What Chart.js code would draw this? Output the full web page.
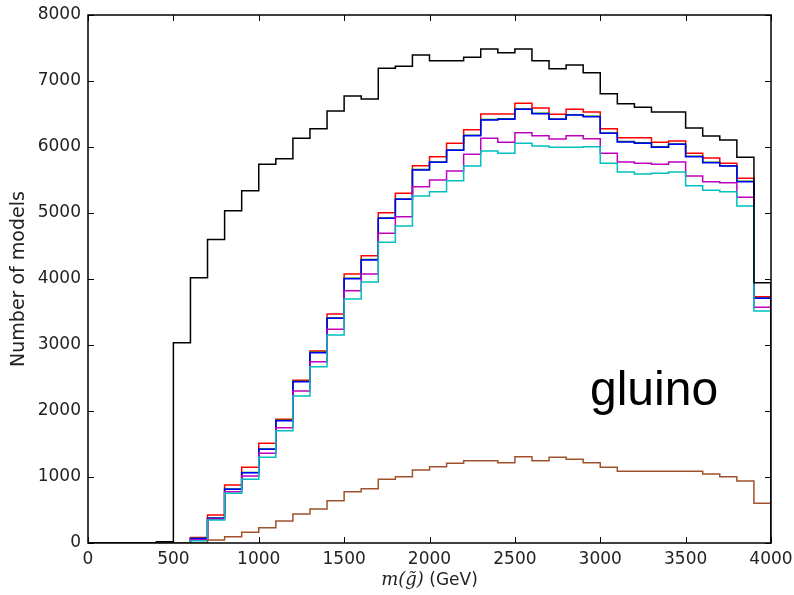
<!doctype html>
<html lang="en">
<head>
  <meta charset="utf-8">
  <title>gluino mass distribution</title>
  <style>
    * { margin: 0; padding: 0; }
    body { background: white; }
    .chartBox { width: 794px; height: 595px; position: relative; }
  </style>
</head>
<body>
<div class="chartBox">
  <canvas id="myChart"></canvas>
</div>

<script src="https://cdn.jsdelivr.net/npm/chart.js"></script>
<script>
  // bin left edges in GeV (bin width 100)
  const binEdges = [0, 100, 200, 300, 400, 500, 600, 700, 800, 900,
    1000, 1100, 1200, 1300, 1400, 1500, 1600, 1700, 1800, 1900,
    2000, 2100, 2200, 2300, 2400, 2500, 2600, 2700, 2800, 2900,
    3000, 3100, 3200, 3300, 3400, 3500, 3600, 3700, 3800, 3900];
  const xMax = 4000;

  // counts per bin
  const allModels = [0, 0, 0, 0, 20, 3035, 4020, 4600, 5035, 5338,
    5737, 5823, 6131, 6278, 6545, 6773, 6727, 7192, 7222, 7394,
    7308, 7308, 7359, 7485, 7429, 7485, 7308, 7187, 7242, 7126,
    6808, 6657, 6601, 6530, 6530, 6288, 6167, 6106, 5843, 3944];
  const redSet = [0, 0, 0, 0, 0, 0, 85, 424, 879, 1146,
    1510, 1874, 2465, 2909, 3470, 4076, 4353, 5005, 5298, 5717,
    5853, 6056, 6260, 6500, 6500, 6662, 6591, 6495, 6571, 6530,
    6278, 6141, 6141, 6071, 6091, 5904, 5833, 5753, 5525, 3732];
  const greenSet = [0, 0, 0, 0, 0, 0, 72, 378, 818, 1070,
    1425, 1858, 2450, 2890, 3410, 4012, 4295, 4925, 5212, 5658,
    5773, 5956, 6178, 6415, 6428, 6576, 6510, 6424, 6490, 6466,
    6212, 6082, 6064, 6002, 6046, 5858, 5768, 5717, 5480, 3712];
  const blueSet = [0, 0, 0, 0, 0, 0, 70, 374, 813, 1066,
    1419, 1853, 2444, 2884, 3404, 4005, 4288, 4919, 5207, 5652,
    5768, 5950, 6172, 6409, 6419, 6571, 6505, 6419, 6485, 6460,
    6207, 6076, 6056, 5995, 6040, 5853, 5763, 5712, 5475, 3707];
  const magentaSet = [0, 0, 0, 0, 0, 0, 50, 364, 778, 1015,
    1359, 1747, 2303, 2747, 3237, 3823, 4076, 4692, 4945, 5399,
    5500, 5638, 5889, 6131, 6071, 6217, 6172, 6121, 6172, 6126,
    5904, 5773, 5753, 5737, 5773, 5561, 5475, 5460, 5237, 3571];
  const cyanSet = [0, 0, 0, 0, 0, 0, 35, 348, 753, 965,
    1298, 1702, 2227, 2671, 3152, 3697, 3955, 4556, 4803, 5258,
    5323, 5490, 5712, 5939, 5904, 6056, 6015, 5995, 5995, 6005,
    5753, 5621, 5591, 5601, 5621, 5414, 5343, 5323, 5106, 3515];
  const brownSet = [0, 0, 0, 0, 0, 0, 0, 45, 96, 162,
    232, 333, 439, 515, 641, 778, 823, 965, 1005, 1106,
    1157, 1207, 1247, 1247, 1217, 1308, 1247, 1298, 1268, 1217,
    1146, 1086, 1086, 1086, 1086, 1086, 1045, 1005, 939, 601];

  const yTicks = [0, 1000, 2000, 3000, 4000, 5000, 6000, 7000, 8000];
  const xTicks = [0, 500, 1000, 1500, 2000, 2500, 3000, 3500, 4000];

  // histogram outline: one point per left edge, then close at the right edge
  function stepPoints(vals) {
    const pts = binEdges.map((e, i) => ({x: e, y: vals[i]}));
    pts.push({x: xMax, y: vals[vals.length - 1]});
    pts.push({x: xMax, y: 0});
    return pts;
  }

  function hist(vals, color) {
    return {
      data: stepPoints(vals),
      borderColor: color,
      borderWidth: 1.5,
      pointRadius: 0,
      stepped: true,
      fill: false
    };
  }

  // first dataset ends up on top
  const data = {
    datasets: [
      hist(allModels, '#000000'),
      hist(brownSet, '#a0522d'),
      hist(cyanSet, '#00bfbf'),
      hist(magentaSet, '#bf00bf'),
      hist(blueSet, '#0000ff'),
      hist(greenSet, '#008000'),
      hist(redSet, '#ff0000')
    ]
  };

  // frame, inward ticks, x label with math part, and the "gluino" note
  const framePlugin = {
    id: 'frame',
    afterDraw(chart) {
      const {ctx, chartArea: a, scales: {x, y}} = chart;
      ctx.save();
      ctx.strokeStyle = '#000';
      ctx.lineWidth = 1.5;
      ctx.strokeRect(a.left, a.top, a.right - a.left, a.bottom - a.top);
      ctx.lineWidth = 1;
      ctx.beginPath();
      xTicks.forEach(v => {
        const px = Math.round(x.getPixelForValue(v)) + 0.5;
        ctx.moveTo(px, a.bottom); ctx.lineTo(px, a.bottom - 6);
        ctx.moveTo(px, a.top); ctx.lineTo(px, a.top + 6);
      });
      yTicks.forEach(v => {
        const py = Math.round(y.getPixelForValue(v)) + 0.5;
        ctx.moveTo(a.left, py); ctx.lineTo(a.left + 6, py);
        ctx.moveTo(a.right, py); ctx.lineTo(a.right - 6, py);
      });
      ctx.stroke();

      // x axis label: m(g~) in italic serif, (GeV) upright
      const mathPart = 'm(g\u0303)';
      const unitPart = ' (GeV)';
      const mathFont = 'italic 18px "DejaVu Serif"';
      const unitFont = '17px "DejaVu Sans"';
      ctx.font = mathFont;
      const w1 = ctx.measureText(mathPart).width;
      ctx.font = unitFont;
      const w2 = ctx.measureText(unitPart).width;
      const cx = (a.left + a.right) / 2;
      let tx = cx - (w1 + w2) / 2;
      const ty = 585;
      ctx.fillStyle = '#222';
      ctx.textBaseline = 'alphabetic';
      ctx.textAlign = 'left';
      ctx.font = mathFont;
      ctx.fillText(mathPart, tx, ty);
      ctx.font = unitFont;
      ctx.fillText(unitPart, tx + w1, ty);

      // big annotation
      ctx.fillStyle = '#000';
      ctx.font = '48px "Liberation Sans"';
      ctx.fillText('gluino', x.getPixelForValue(2940), y.getPixelForValue(2090));
      ctx.restore();
    }
  };

  const config = {
    type: 'line',
    data,
    options: {
      responsive: true,
      maintainAspectRatio: false,
      animation: false,
      layout: {
        padding: {left: 0, top: 15, right: 23, bottom: 0}
      },
      scales: {
        x: {
          type: 'linear',
          min: 0,
          max: xMax,
          afterFit: (scale) => {
            scale.height = 52;
            scale.paddingLeft = 0;
            scale.paddingRight = 0;
          },
          afterBuildTicks: (scale) => { scale.ticks = xTicks.map(v => ({value: v})); },
          grid: { display: false, drawTicks: false },
          border: { display: false },
          ticks: {
            padding: 6,
            color: '#222',
            maxRotation: 0,
            callback: (v) => String(v),
            font: { family: 'DejaVu Sans', size: 17 }
          }
        },
        y: {
          min: 0,
          max: 8000,
          afterFit: (scale) => {
            scale.width = 88;
            scale.paddingTop = 0;
            scale.paddingBottom = 0;
          },
          afterBuildTicks: (scale) => { scale.ticks = yTicks.map(v => ({value: v})); },
          grid: { display: false, drawTicks: false },
          border: { display: false },
          ticks: {
            padding: 7,
            color: '#222',
            callback: (v) => String(v),
            font: { family: 'DejaVu Sans', size: 17 }
          },
          title: {
            display: true,
            text: 'Number of models',
            color: '#222',
            padding: { top: 8, bottom: 0 },
            font: { family: 'DejaVu Sans', size: 19 }
          }
        }
      },
      plugins: {
        legend: { display: false },
        tooltip: { enabled: false },
        title: { display: false }
      }
    },
    plugins: [framePlugin]
  };

  const myChart = new Chart(document.getElementById('myChart'), config);
</script>
</body>
</html>
